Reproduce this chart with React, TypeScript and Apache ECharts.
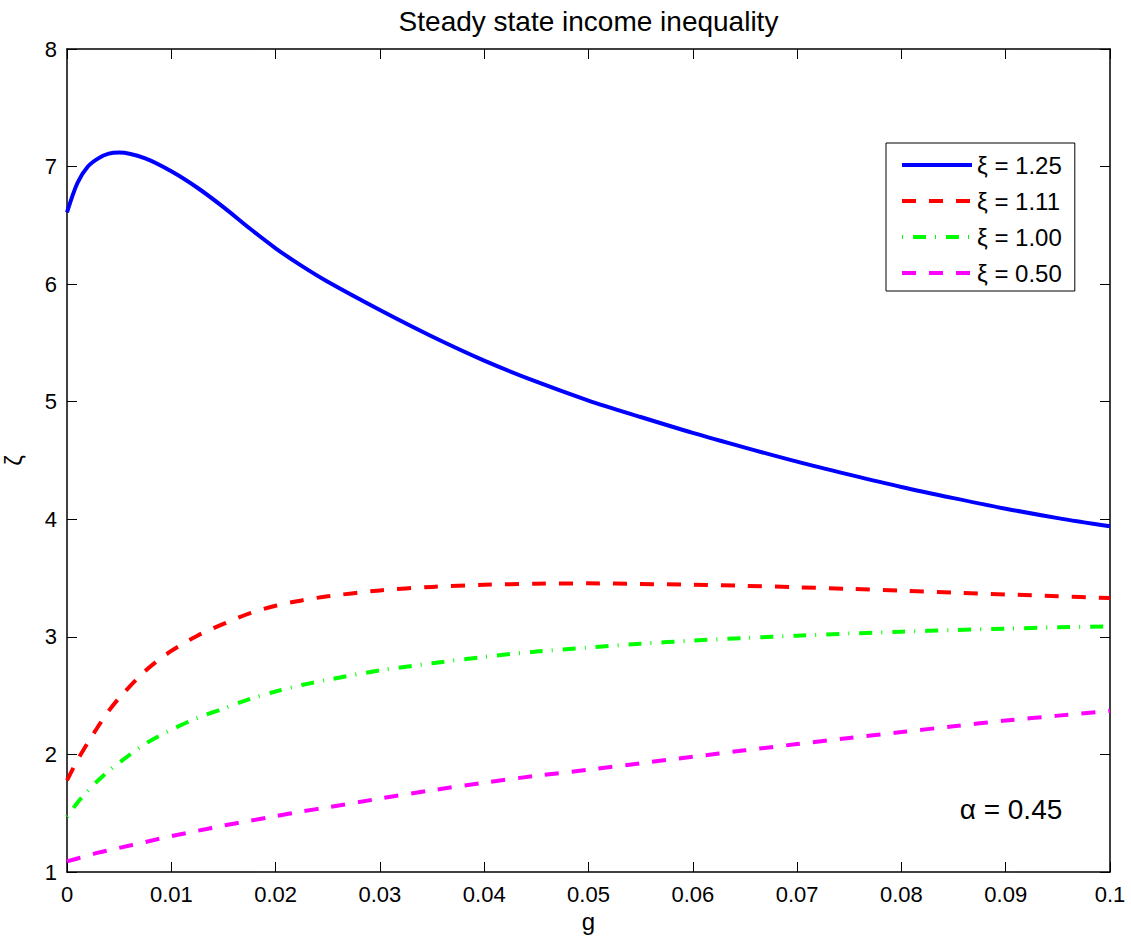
import React, { useEffect, useRef } from "react";
import * as echarts from "echarts";

const gValues = [0, 0.001, 0.002, 0.003, 0.004, 0.005, 0.0075, 0.01, 0.0125, 0.015, 0.0175, 0.02, 0.0225, 0.025, 0.03, 0.035, 0.04, 0.045, 0.05, 0.055, 0.06, 0.065, 0.07, 0.075, 0.08, 0.085, 0.09, 0.095, 0.1];

const xi125 = [6.61, 6.86, 7.0, 7.07, 7.11, 7.12, 7.07, 6.96, 6.82, 6.655, 6.475, 6.305, 6.155, 6.02, 5.78, 5.555, 5.35, 5.17, 5.01, 4.87, 4.735, 4.61, 4.49, 4.38, 4.275, 4.18, 4.09, 4.01, 3.94];
const xi111 = [1.78, 1.95, 2.1, 2.24, 2.37, 2.48, 2.71, 2.88, 3.01, 3.11, 3.2, 3.265, 3.31, 3.345, 3.395, 3.425, 3.443, 3.452, 3.455, 3.45, 3.443, 3.434, 3.422, 3.408, 3.393, 3.377, 3.361, 3.345, 3.33];
const xi100 = [1.47, 1.59, 1.69, 1.78, 1.86, 1.93, 2.09, 2.21, 2.31, 2.39, 2.47, 2.535, 2.59, 2.635, 2.715, 2.775, 2.83, 2.875, 2.91, 2.942, 2.968, 2.99, 3.01, 3.028, 3.044, 3.058, 3.07, 3.081, 3.09];
const xi050 = [1.09, 1.115, 1.14, 1.165, 1.185, 1.205, 1.255, 1.305, 1.35, 1.395, 1.435, 1.475, 1.515, 1.55, 1.625, 1.695, 1.76, 1.818, 1.87, 1.925, 1.98, 2.035, 2.088, 2.14, 2.19, 2.24, 2.288, 2.33, 2.37];

const seriesNames = ["ξ = 1.25", "ξ = 1.11", "ξ = 1.00", "ξ = 0.50"];
const xTickLabels = ["0", "0.01", "0.02", "0.03", "0.04", "0.05", "0.06", "0.07", "0.08", "0.09", "0.1"];
const titleText = "Steady state income inequality";
const annotationText = "α = 0.45";

const FONT = "Liberation Sans, Arial, Helvetica, sans-serif";

export default function App() {
  const ref = useRef<HTMLDivElement>(null);
  useEffect(() => {
    const chart = echarts.init(ref.current!, null, { renderer: "svg" });
    const toData = (vals: number[]) => gValues.map((g, i) => [g, vals[i]]);
    const mk = (name: string, vals: number[], color: string, type: any, width: number) => ({
      name,
      type: "line",
      data: toData(vals),
      symbol: "none",
      showSymbol: false,
      smooth: 0.3,
      lineStyle: { color, width, type, cap: "butt" },
      itemStyle: { color },
      xAxisIndex: 0,
      yAxisIndex: 0,
    });
    const tickStyle = { inside: true, length: 10, lineStyle: { color: "#000", width: 1 } };
    const axisLine = { show: true, onZero: false, lineStyle: { color: "#000", width: 1.5 } };
    chart.setOption({
      animation: false,
      backgroundColor: "#fff",
      grid: { left: 67, right: 21, top: 49, bottom: 66, containLabel: false, outerBoundsMode: "none" },
      xAxis: [
        {
          type: "value",
          min: 0,
          max: 0.1,
          interval: 0.01,
          position: "bottom",
          name: "g",
          nameLocation: "middle",
          nameGap: 34,
          nameTextStyle: { fontSize: 24, color: "#000", fontFamily: FONT },
          axisLine,
          axisTick: tickStyle,
          splitLine: { show: false },
          axisLabel: {
            color: "#000",
            fontSize: 22,
            fontFamily: FONT,
            margin: 11,
            formatter: (v: number) => xTickLabels[Math.round(v * 100)] ?? "",
          },
        },
        {
          type: "value",
          min: 0,
          max: 0.1,
          interval: 0.01,
          position: "top",
          axisLine,
          axisTick: tickStyle,
          splitLine: { show: false },
          axisLabel: { show: false },
        },
      ],
      yAxis: [
        {
          type: "value",
          min: 1,
          max: 8,
          interval: 1,
          position: "left",
          name: "ζ",
          nameLocation: "middle",
          nameGap: 42,
          nameRotate: 90,
          nameTextStyle: { fontSize: 24, color: "#000", fontFamily: FONT },
          axisLine,
          axisTick: tickStyle,
          splitLine: { show: false },
          axisLabel: { color: "#000", fontSize: 22, fontFamily: FONT, margin: 10 },
        },
        {
          type: "value",
          min: 1,
          max: 8,
          interval: 1,
          position: "right",
          axisLine,
          axisTick: tickStyle,
          splitLine: { show: false },
          axisLabel: { show: false },
        },
      ],
      legend: {
        show: true,
        data: seriesNames,
        orient: "vertical",
        left: 886,
        top: 143,
        padding: [10, 13, 6, 14],
        itemWidth: 70,
        itemHeight: 22,
        itemGap: 12,
        itemStyle: { opacity: 0 },
        lineStyle: { width: 4 },
        borderColor: "#000",
        borderWidth: 1,
        backgroundColor: "#fff",
        textStyle: { color: "#000", fontSize: 24, fontFamily: FONT },
      },
      graphic: [
        {
          type: "text",
          x: 588.5,
          y: 21,
          style: {
            text: titleText,
            fill: "#000",
            font: `28px ${FONT}`,
            textAlign: "center",
            textVerticalAlign: "middle",
          },
        },
        {
          type: "text",
          x: 1011,
          y: 809,
          style: {
            text: annotationText,
            fill: "#000",
            font: `28px ${FONT}`,
            textAlign: "center",
            textVerticalAlign: "middle",
          },
        },
      ],
      series: [
        mk(seriesNames[0], xi125, "#0000ff", "solid", 4),
        mk(seriesNames[1], xi111, "#ff0000", [14, 13], 4),
        mk(seriesNames[2], xi100, "#00ff00", [1, 10, 13, 9], 4),
        mk(seriesNames[3], xi050, "#ff00ff", [14, 13], 4),
      ],
    });
    return () => chart.dispose();
  }, []);
  return (
    <div
      ref={ref}
      style={{ position: "absolute", left: 0, top: 0, width: 1131, height: 938, background: "#fff" }}
    />
  );
}
